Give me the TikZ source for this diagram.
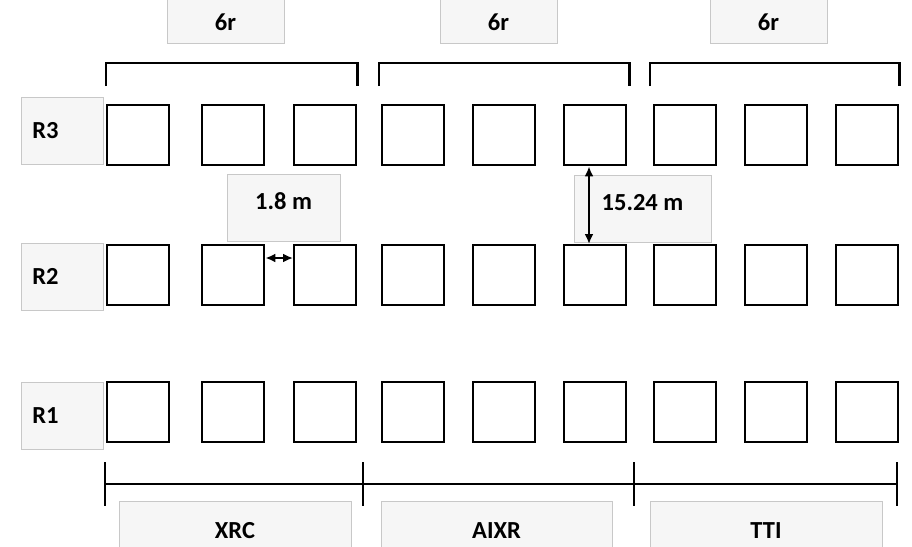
\documentclass[tikz,border=0pt]{standalone}
\usepackage{fontspec}
\setmainfont{Carlito}
\usetikzlibrary{arrows.meta,positioning,calc}
\definecolor{tagline}{HTML}{C8C8C8}
\definecolor{tagfill}{HTML}{F6F6F6}

\begin{document}
\begin{tikzpicture}[
  x=1pt,y=-1pt,
  font=\fontsize{24.5}{28}\selectfont\bfseries,
  bay/.style={draw,line width=2.4pt,minimum width=62pt,minimum height=60pt,
              inner sep=0pt,anchor=north west},
  tag/.style={draw=tagline,fill=tagfill,line width=0.8pt,inner sep=0pt},
  rowtag/.style={tag,anchor=north west,minimum height=67pt,text width=60pt,
                 inner xsep=11pt,align=left},
  toptag/.style={tag,minimum width=117pt,minimum height=48pt,text height=23pt,text depth=0pt},
  dimtag/.style={tag,minimum height=67pt,text height=15pt,text depth=12pt},
  labtag/.style={tag,anchor=north,minimum width=232pt,minimum height=59pt},
  brk/.style={line width=2.2pt},
  dim/.style={{Latex[length=10pt,width=9pt]}-{Latex[length=10pt,width=9pt]},line width=2.2pt},
]
\clip (0,0) rectangle (912,546);

% ---- Bays (rows R3, R2, R1)
\foreach \r/\y in {3/104,2/244,1/381}
  \foreach \c/\x in {1/106,2/201,3/293,4/381,5/472,6/563,7/653,8/744,9/835}
    \node[bay] (r\r c\c) at (\x,\y) {};

% ---- Row labels
\node[rowtag] (tag3) at (21,97)  {R3};
\node[rowtag] (tag2) at (21,243) {R2};
\node[rowtag] (tag1) at (21,382) {R1};

% ---- Top brackets
\draw[brk] ([yshift=18pt]r3c1.north west) -- ++(0,-23) -| ([yshift=18pt]r3c3.north east);
\draw[brk] ([yshift=18pt,xshift=-2pt]r3c4.north west) -- ++(0,-23) -| ([yshift=18pt,xshift=2pt]r3c6.north east);
\draw[brk] ([yshift=18pt,xshift=-3pt]r3c7.north west) -- ++(0,-23) -| ([yshift=18pt]r3c9.north east);
\node[toptag] (six1) at (225.5,19) {6r};
\node[toptag] (six2) at (498.5,19) {6r};
\node[toptag] (six3) at (768.5,19) {6r};

% ---- Spacing
\node[dimtag,minimum width=113pt] (gap)   at (283.5,207.5) {1.8 m};
\node[dimtag,minimum width=137pt] (aisle) at (642.5,208.5) {15.24 m};
\draw[dim] ([yshift=-14pt]r2c2.north east) -- ([yshift=-14pt]r2c3.north west);
\draw[dim] ([xshift=26pt]r3c6.south west) -- ([xshift=26pt]r2c6.north west);

% ---- Bottom scale
\coordinate (s0) at (105,484);
\coordinate (s1) at (363,484);
\coordinate (s2) at (634,484);
\coordinate (s3) at (897,484);
\draw[brk] (s0) -- (s3);
\foreach \p in {s0,s1,s2,s3}
  \draw[brk] ([yshift=22pt]\p) -- ([yshift=-22pt]\p);
\node[labtag] (xrc)  at (235,501)   {XRC};
\node[labtag,minimum width=231pt] (aixr) at (496.5,501) {AIXR};
\node[labtag] (tti)  at (766,501)   {TTI};

\end{tikzpicture}
\end{document}
